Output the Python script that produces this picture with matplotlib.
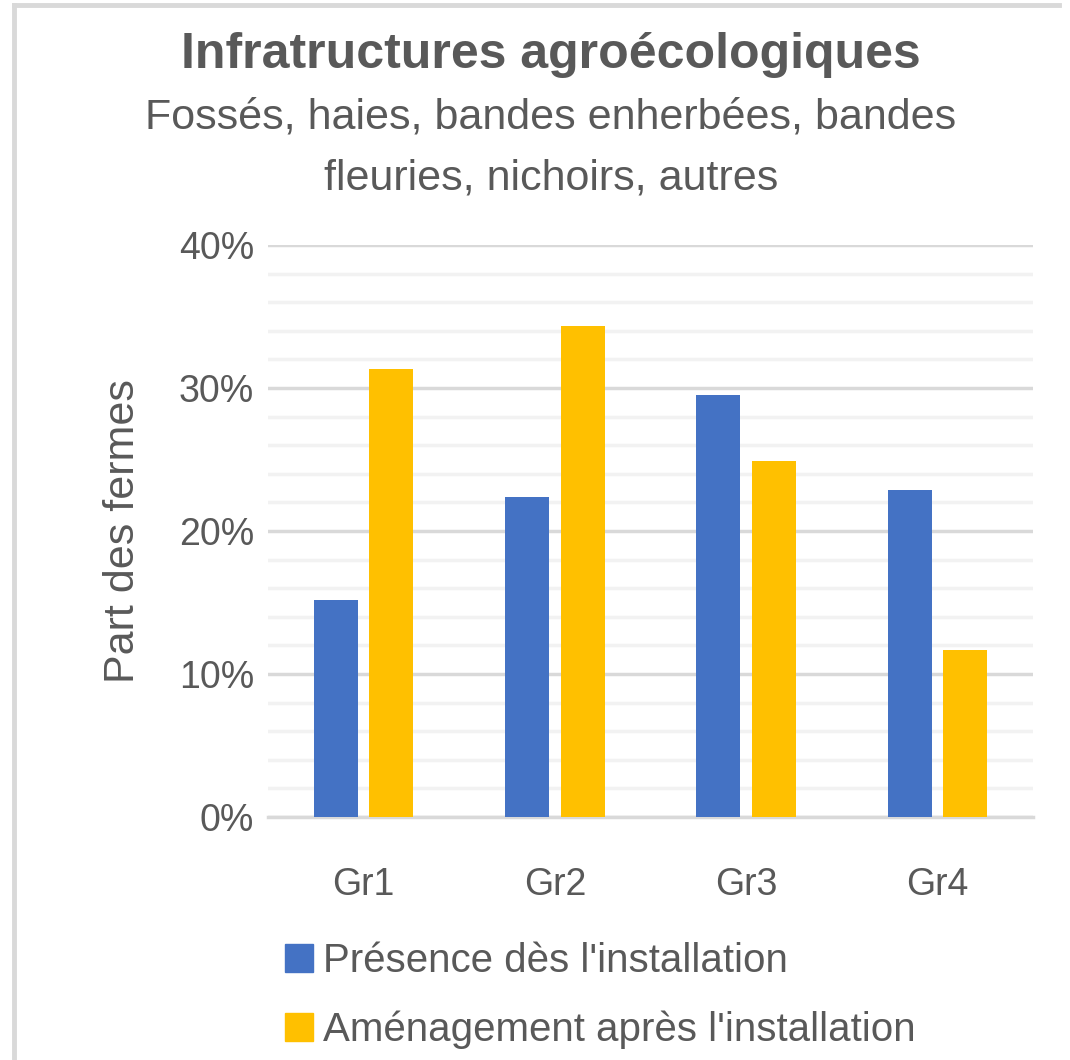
import numpy as np
import matplotlib
matplotlib.use('Agg')
import matplotlib.pyplot as plt
from matplotlib.patches import Rectangle
from matplotlib.lines import Line2D

plt.rcParams['font.family'] = ['Liberation Sans', 'DejaVu Sans']

# données
groupes = ['Gr1', 'Gr2', 'Gr3', 'Gr4']
presence = [15.2, 22.4, 29.5, 22.9]      # % présence dès l'installation
amenagement = [31.3, 34.3, 24.9, 11.7]   # % aménagement après l'installation
series = ["Présence dès l'installation", "Aménagement après l'installation"]
couleurs = ['#4472C4', '#FFC000']
gris = '#595959'

fig = plt.figure(figsize=(10.7, 10.6), dpi=100)
ax = fig.add_axes([0.2505, 0.2292, 0.7149, 0.5397])

x = np.arange(len(groupes))
w = 0.23
ax.bar(x - 0.145, presence, w, color=couleurs[0], zorder=3)
ax.bar(x + 0.145, amenagement, w, color=couleurs[1], zorder=3)

ax.set_xlim(-0.5, 3.5)
ax.set_ylim(0, 40)
ax.set_yticks([0, 10, 20, 30, 40])
ax.set_yticklabels(['0%', '10%', '20%', '30%', '40%'])
ax.set_yticks(np.arange(0, 40, 2), minor=True)
ax.grid(axis='y', which='minor', color='#f2f2f2', linewidth=2.5, zorder=0)
ax.grid(axis='y', which='major', color='#d9d9d9', linewidth=2.5, zorder=1)
ax.set_xticks(x)
ax.set_xticklabels(groupes)
ax.tick_params(axis='both', which='both', length=0, labelsize=27, colors=gris)
ax.tick_params(axis='y', pad=10)
ax.tick_params(axis='x', pad=36)
for s in ['top', 'right', 'left']:
    ax.spines[s].set_visible(False)
ax.spines['bottom'].set_color('#d9d9d9')
ax.spines['bottom'].set_linewidth(2.5)
ax.set_ylabel('Part des fermes', fontsize=31, color=gris, labelpad=26)

# titres
fig.text(0.515, 0.948, 'Infratructures agroécologiques', ha='center', va='center',
         fontsize=36, fontweight='bold', color=gris)
fig.text(0.515, 0.889, 'Fossés, haies, bandes enherbées, bandes', ha='center', va='center',
         fontsize=31, color=gris)
fig.text(0.515, 0.832, 'fleuries, nichoirs, autres', ha='center', va='center',
         fontsize=31, color=gris)

# légende
handles = [Rectangle((0, 0), 1, 1, color=c) for c in couleurs]
leg = fig.legend(handles, series, loc='upper left', bbox_to_anchor=(0.266, 0.111),
                 frameon=False, fontsize=29, labelcolor=gris, handlelength=0.7,
                 handleheight=0.7, handletextpad=0.25, labelspacing=0.75,
                 borderpad=0, borderaxespad=0)

# cadre
fig.add_artist(Line2D([0.0131, 0.0131], [0, 0.9955], color='#d9d9d9', linewidth=3.5))
fig.add_artist(Line2D([0.0131, 0.99], [0.9955, 0.9955], color='#d9d9d9', linewidth=3.5))

fig.savefig('out.png', dpi=100, facecolor='white')
